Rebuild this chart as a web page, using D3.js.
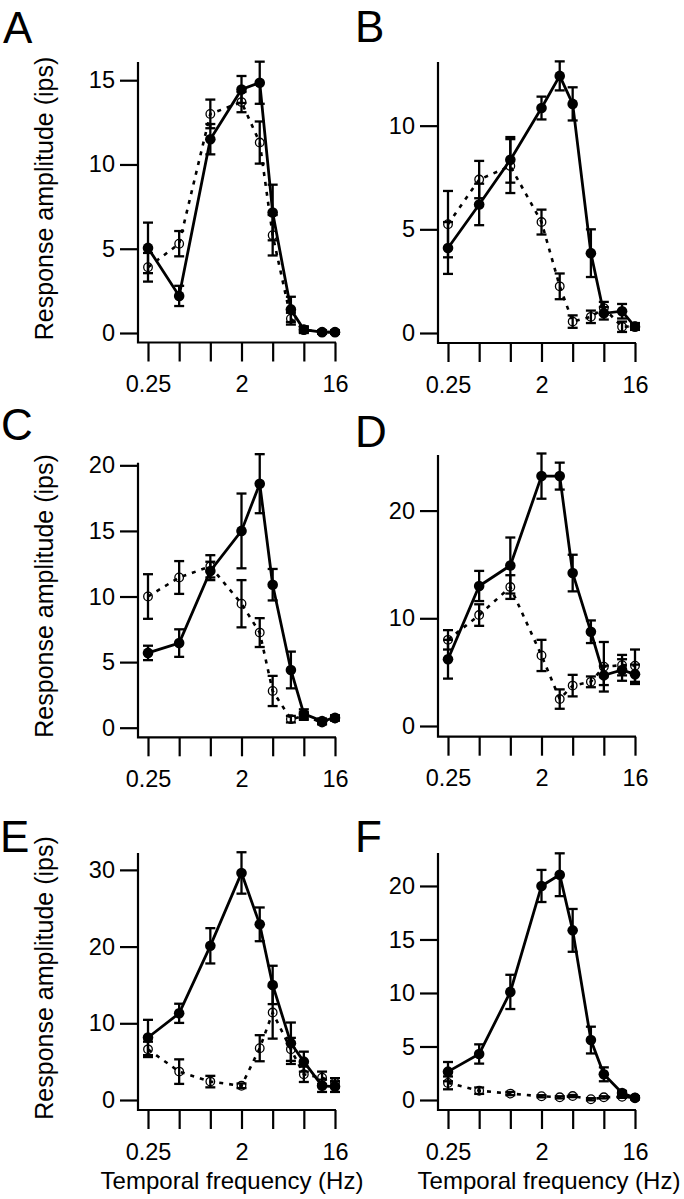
<!DOCTYPE html>
<html>
<head>
<meta charset="utf-8">
<script src="https://cdn.jsdelivr.net/npm/d3@7"></script>
<style>
body { margin: 0; background: #fff; }
text { font-family: "Liberation Sans", Arial, sans-serif; fill: #000; }
</style>
</head>
<body>
<script>
// temporal frequencies (Hz) of the stimuli, and the x ticks
var freqs = [0.25, 0.5, 1, 2, 3, 4, 6, 8, 12, 16];
var xTicks = [0.25, 0.5, 1, 2, 4, 8, 16];
var xTickLabels = {0.25: "0.25", 2: "2", 16: "16"};

// filled = solid line, open = dashed line (mean and error)
var aFilled = [5.05, 2.2, 11.5, 14.45, 14.85, 7.15, 1.4, 0.2, 0.05, 0.05];
var aFilledErr = [1.5, 0.6, 0.9, 0.8, 1.25, 1.65, 0.75, 0.2, 0.1, 0.1];
var aOpen = [3.9, 5.3, 13.0, 13.7, 11.3, 5.8, 0.85, 0.2, 0.05, 0.05];
var aOpenErr = [0.85, 0.75, 0.85, 0.6, 1.25, 1.2, 0.35, 0.15, 0.1, 0.1];

var bFilled = [4.1, 6.2, 8.35, 10.85, 12.4, 11.05, 3.85, 0.95, 1.05, 0.3];
var bFilledErr = [1.25, 1.0, 1.1, 0.55, 0.7, 0.8, 1.15, 0.3, 0.35, 0.15];
var bOpen = [5.25, 7.4, 8.05, 5.35, 2.25, 0.55, 0.78, 1.2, 0.3, 0.33];
var bOpenErr = [1.6, 0.9, 1.3, 0.6, 0.62, 0.3, 0.3, 0.3, 0.25, 0.15];

var cFilled = [5.7, 6.45, 11.95, 15.0, 18.6, 10.9, 4.4, 1.05, 0.5, 0.75];
var cFilledErr = [0.55, 1.05, 0.7, 2.85, 2.25, 1.2, 1.4, 0.35, 0.2, 0.2];
var cOpen = [10.0, 11.45, 12.3, 9.45, 7.25, 2.8, 0.65, 0.9, 0.4, 0.7];
var cOpenErr = [1.7, 1.25, 0.85, 1.8, 1.1, 1.15, 0.25, 0.3, 0.15, 0.15];

var dFilled = [6.2, 13.0, 14.9, 23.2, 23.2, 14.2, 8.75, 4.7, 5.2, 4.8];
var dFilledErr = [1.8, 1.4, 2.6, 2.1, 1.25, 1.7, 1.05, 0.9, 1.0, 0.9];
var dOpen = [8.0, 10.3, 12.9, 6.55, 2.5, 3.75, 4.1, 5.5, 5.65, 5.6];
var dOpenErr = [0.9, 1.0, 1.1, 1.45, 0.9, 1.0, 0.5, 2.3, 0.95, 1.5];

var eFilled = [8.15, 11.3, 20.1, 29.6, 22.9, 15.0, 7.4, 5.0, 1.85, 1.75];
var eFilledErr = [2.3, 1.25, 2.3, 2.7, 2.2, 2.5, 2.7, 1.3, 0.8, 0.7];
var eOpen = [6.6, 3.7, 2.4, 1.85, 6.75, 11.4, 6.6, 3.35, 2.9, 2.25];
var eOpenErr = [1.0, 1.6, 0.75, 0.3, 1.7, 3.4, 1.5, 1.0, 0.8, 0.6];

var fFilled = [2.65, 4.3, 10.1, 20.0, 21.05, 15.85, 5.6, 2.4, 0.65, 0.2];
var fFilledErr = [0.9, 0.9, 1.6, 1.5, 2.0, 2.0, 1.25, 0.65, 0.2, 0.15];
var fOpen = [1.6, 0.87, 0.6, 0.35, 0.25, 0.37, 0.07, 0.25, 0.3, 0.22];
var fOpenErr = [0.6, 0.3, 0.15, 0.1, 0.1, 0.1, 0.1, 0.1, 0.1, 0.1];

var yLabel = "Response amplitude (ips)";
var xLabel = "Temporal frequency (Hz)";

// where each panel sits on the page
var panels = [
  {name: "A", filled: aFilled, filledErr: aFilledErr, open: aOpen, openErr: aOpenErr,
   yTicks: [0, 5, 10, 15], yMax: 16.08, left: 138, top: 62, zero: 333, xAxis: 342.5,
   lx: 3, ly: 43, ylab: 198.5, xlab: null},
  {name: "B", filled: bFilled, filledErr: bFilledErr, open: bOpen, openErr: bOpenErr,
   yTicks: [0, 5, 10], yMax: 13.07, left: 438, top: 62, zero: 333, xAxis: 343,
   lx: 355, ly: 42, ylab: null, xlab: null},
  {name: "C", filled: cFilled, filledErr: cFilledErr, open: cOpen, openErr: cOpenErr,
   yTicks: [0, 5, 10, 15, 20], yMax: 20.2, left: 138, top: 462.7, zero: 727.7, xAxis: 737.3,
   lx: 1, ly: 440, ylab: 596, xlab: null},
  {name: "D", filled: dFilled, filledErr: dFilledErr, open: dOpen, openErr: dOpenErr,
   yTicks: [0, 10, 20], yMax: 25.16, left: 438, top: 455, zero: 726, xAxis: 736.7,
   lx: 355, ly: 447, ylab: null, xlab: null},
  {name: "E", filled: eFilled, filledErr: eFilledErr, open: eOpen, openErr: eOpenErr,
   yTicks: [0, 10, 20, 30], yMax: 32.2, left: 138, top: 853, zero: 1100, xAxis: 1110,
   lx: 0, ly: 852, ylab: 978, xlab: 232},
  {name: "F", filled: fFilled, filledErr: fFilledErr, open: fOpen, openErr: fOpenErr,
   yTicks: [0, 5, 10, 15, 20], yMax: 23.08, left: 438, top: 853, zero: 1100, xAxis: 1110,
   lx: 355, ly: 852, ylab: null, xlab: 549}
];

var svg = d3.select("body").append("svg")
    .attr("width", 684)
    .attr("height", 1199);

panels.forEach(function (p) {
    var x = d3.scaleLog().base(2).domain([0.25, 16]).range([p.left + 10, p.left + 197]);
    var y = d3.scaleLinear().domain([0, p.yMax]).range([p.zero, p.top]);
    var g = svg.append("g");

    // y axis
    var ya = g.append("g")
        .attr("transform", "translate(" + p.left + ",0)")
        .call(d3.axisLeft(y).tickValues(p.yTicks).tickSize(18).tickPadding(5).tickSizeOuter(0));
    ya.select(".domain").remove();
    ya.selectAll("line").attr("stroke", "#000").attr("stroke-width", 2.2);
    ya.selectAll("text").attr("font-size", 23.5).attr("font-family", "Liberation Sans, Arial, sans-serif");

    // x axis
    var xa = g.append("g")
        .attr("transform", "translate(0," + p.xAxis + ")")
        .call(d3.axisBottom(x).tickValues(xTicks).tickSize(19).tickPadding(14).tickSizeOuter(0)
            .tickFormat(function (d) { return xTickLabels[d] || ""; }));
    xa.select(".domain").remove();
    xa.selectAll("line").attr("stroke", "#000").attr("stroke-width", 2.2);
    xa.selectAll("text").attr("font-size", 23.5).attr("font-family", "Liberation Sans, Arial, sans-serif");

    // the L shaped frame
    g.append("path")
        .attr("d", "M" + p.left + "," + p.top + "V" + p.xAxis + "H" + (x(16) + 1))
        .attr("fill", "none")
        .attr("stroke", "#000")
        .attr("stroke-width", 2.2);

    function series(vals, errs, dashed) {
        var line = d3.line()
            .x(function (d, i) { return x(freqs[i]); })
            .y(function (d) { return y(d); });
        g.append("path")
            .datum(vals)
            .attr("d", line)
            .attr("fill", "none")
            .attr("stroke", "#000")
            .attr("stroke-width", dashed ? 2.6 : 2.8)
            .attr("stroke-dasharray", dashed ? "4,6" : null);

        var eb = g.append("g").selectAll("g")
            .data(vals)
            .enter().append("g");
        eb.append("line")
            .attr("x1", function (d, i) { return x(freqs[i]); })
            .attr("x2", function (d, i) { return x(freqs[i]); })
            .attr("y1", function (d, i) { return y(d - errs[i]); })
            .attr("y2", function (d, i) { return y(d + errs[i]); });
        eb.append("line")
            .attr("x1", function (d, i) { return x(freqs[i]) - 5; })
            .attr("x2", function (d, i) { return x(freqs[i]) + 5; })
            .attr("y1", function (d, i) { return y(d + errs[i]); })
            .attr("y2", function (d, i) { return y(d + errs[i]); });
        eb.append("line")
            .attr("x1", function (d, i) { return x(freqs[i]) - 5; })
            .attr("x2", function (d, i) { return x(freqs[i]) + 5; })
            .attr("y1", function (d, i) { return y(d - errs[i]); })
            .attr("y2", function (d, i) { return y(d - errs[i]); });
        eb.selectAll("line").attr("stroke", "#000").attr("stroke-width", 2.3);

        g.append("g").selectAll("circle")
            .data(vals)
            .enter().append("circle")
            .attr("cx", function (d, i) { return x(freqs[i]); })
            .attr("cy", function (d) { return y(d); })
            .attr("r", dashed ? 4.3 : 5.3)
            .attr("fill", dashed ? "none" : "#000")
            .attr("stroke", "#000")
            .attr("stroke-width", dashed ? 1.3 : 0);
    }

    series(p.open, p.openErr, true);
    series(p.filled, p.filledErr, false);

    // panel letter
    svg.append("text")
        .attr("x", p.lx)
        .attr("y", p.ly)
        .attr("font-size", 44)
        .text(p.name);

    if (p.ylab !== null) {
        svg.append("text")
            .attr("transform", "translate(53," + p.ylab + ") rotate(-90)")
            .attr("text-anchor", "middle")
            .attr("font-size", 25)
            .text(yLabel);
    }
    if (p.xlab !== null) {
        svg.append("text")
            .attr("x", p.xlab)
            .attr("y", 1189)
            .attr("text-anchor", "middle")
            .attr("font-size", 24)
            .text(xLabel);
    }
});
</script>
</body>
</html>
